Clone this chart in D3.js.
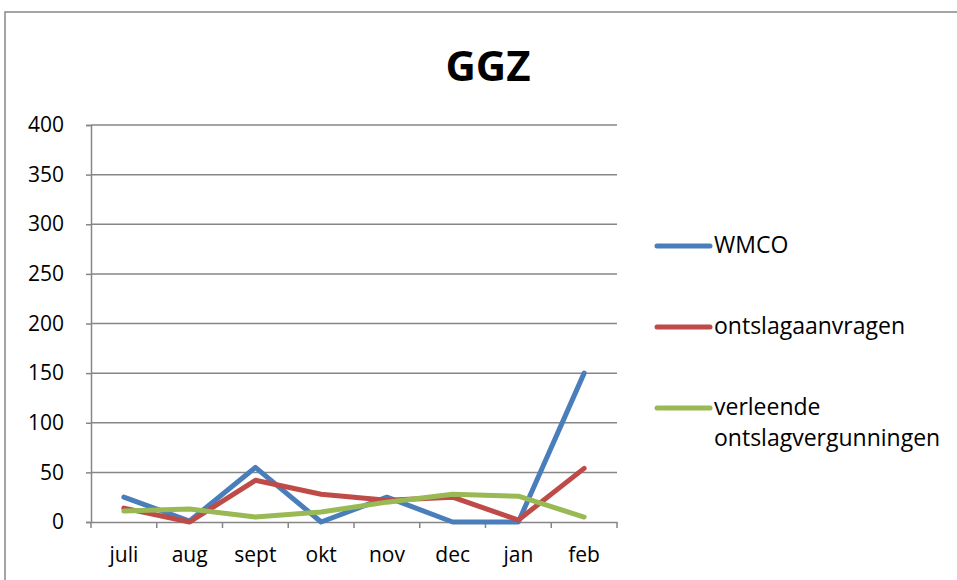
<!DOCTYPE html>
<html>
<head>
<meta charset="UTF-8" />
<title>GGZ</title>
<script src="https://d3js.org/d3.v7.min.js"></script>
<style>
  body { margin: 0; background: #fff; }
  text { font-family: "Open Sans", sans-serif; fill: #000; }
</style>
</head>
<body>
<div id="chart"></div>
<script>
  // data
  const months = ['juli', 'aug', 'sept', 'okt', 'nov', 'dec', 'jan', 'feb'];
  const wmco = [25, 1, 55, 0, 25, 0, 0, 150];
  const aanvragen = [14, 0, 42, 28, 22, 25, 2, 54];
  const vergunningen = [11, 13, 5, 10, 20, 28, 26, 5];
  const seriesNames = ['WMCO', 'ontslagaanvragen', 'verleende\nontslagvergunningen'];
  const colors = ['#4a7ebb', '#be4b48', '#98b954'];
  const yTicks = [0, 50, 100, 150, 200, 250, 300, 350, 400];

  const series = [wmco, aanvragen, vergunningen];

  const W = 957, H = 580;
  const font = '"Open Sans", sans-serif';
  const svg = d3.select('#chart').append('svg')
      .attr('width', W)
      .attr('height', H);

  // outer chart frame
  svg.append('rect')
      .attr('x', 5).attr('y', 12)
      .attr('width', W + 10).attr('height', H + 10)
      .attr('fill', 'none')
      .attr('stroke', '#888')
      .attr('stroke-width', 1.5);

  svg.append('text')
      .attr('x', 488).attr('y', 81)
      .attr('text-anchor', 'middle')
      .style('font-size', '42px')
      .style('font-weight', 'bold')
      .text('GGZ');

  const x = d3.scaleBand().domain(months).range([91, 617]);
  const y = d3.scaleLinear().domain([0, 400]).range([522, 125]);

  // gridlines
  svg.append('g')
      .selectAll('line')
      .data(yTicks.slice(1))
      .join('line')
      .attr('x1', 91).attr('x2', 617)
      .attr('y1', d => y(d)).attr('y2', d => y(d))
      .attr('stroke', '#868686')
      .attr('stroke-width', 1.5);

  const yAxis = svg.append('g')
      .attr('transform', 'translate(91,0)')
      .call(d3.axisLeft(y).tickValues(yTicks).tickSize(5).tickPadding(22));
  yAxis.select('.domain').attr('stroke', '#868686').attr('stroke-width', 1.5);
  yAxis.selectAll('.tick line').attr('stroke', '#868686').attr('stroke-width', 1.5);
  yAxis.selectAll('.tick text').style('font-size', '21px').style('font-family', font);

  const xAxis = svg.append('g')
      .attr('transform', 'translate(0,522)')
      .call(d3.axisBottom(x).tickSize(0).tickPadding(25));
  xAxis.select('.domain').attr('stroke', '#868686').attr('stroke-width', 1.5);
  xAxis.selectAll('.tick text').style('font-size', '21px').style('font-family', font);

  // category boundary ticks
  svg.append('g')
      .selectAll('line')
      .data(months.map((m, i) => i).concat([months.length]))
      .join('line')
      .attr('x1', i => i < months.length ? x(months[i]) : x.range()[1])
      .attr('x2', i => i < months.length ? x(months[i]) : x.range()[1])
      .attr('y1', 522).attr('y2', 528)
      .attr('stroke', '#868686')
      .attr('stroke-width', 1.5);

  const line = d3.line()
      .x((d, i) => x(months[i]) + x.bandwidth() / 2)
      .y(d => y(d));

  svg.append('g')
      .selectAll('path')
      .data(series)
      .join('path')
      .attr('d', d => line(d))
      .attr('fill', 'none')
      .attr('stroke', (d, i) => colors[i])
      .attr('stroke-width', 5)
      .attr('stroke-linejoin', 'round')
      .attr('stroke-linecap', 'round');

  // legend
  const legendY = [246, 327, 408];
  const legend = svg.append('g')
      .selectAll('g')
      .data(seriesNames)
      .join('g')
      .attr('transform', (d, i) => `translate(656,${legendY[i]})`);

  legend.append('line')
      .attr('x1', 1).attr('x2', 54)
      .attr('stroke', (d, i) => colors[i])
      .attr('stroke-width', 5)
      .attr('stroke-linecap', 'round');

  legend.append('text')
      .attr('x', 58)
      .attr('y', 7)
      .style('font-size', '23px')
      .selectAll('tspan')
      .data(d => d.split('\n'))
      .join('tspan')
      .attr('x', 58)
      .attr('dy', (d, i) => i === 0 ? 0 : 31)
      .text(d => d);
</script>
</body>
</html>
